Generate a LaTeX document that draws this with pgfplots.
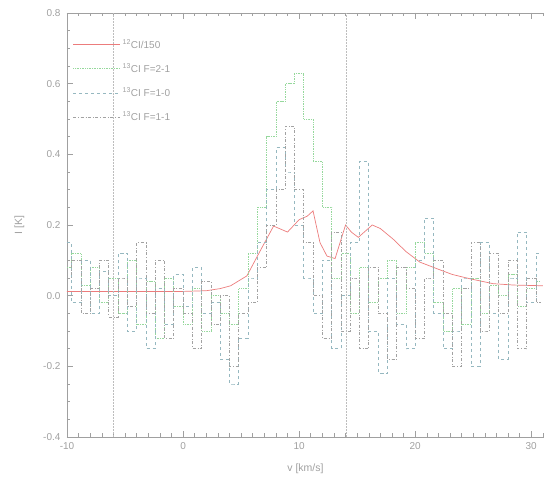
\documentclass[border=0pt]{standalone}
\usepackage{pgfplots}
\pgfplotsset{compat=1.18}
\usepackage{fontspec}
\setmainfont{Liberation Sans}
\definecolor{AxGray}{HTML}{A0A0A0}
\definecolor{LineRed}{HTML}{EC7C7C}
\definecolor{DotGreen}{HTML}{96D89C}
\definecolor{DashTeal}{HTML}{96B8C0}
\definecolor{DotDash}{HTML}{A2A2A2}
\definecolor{MarkGray}{HTML}{BDBDBD}

\pgfplotstableread{
v     I
-10   0.012
-6    0.012
0     0.012
2     0.014
3.2   0.020
4.1   0.028
5.5   0.056
6.6   0.124
7.8   0.197
9.0   0.180
10.0  0.215
10.7  0.225
11.2  0.240
11.8  0.150
12.4  0.112
13.1  0.105
14.0  0.200
14.5  0.180
15.1  0.165
16.3  0.200
17.0  0.190
18.1  0.160
19.2  0.125
20.4  0.095
21.9  0.076
23.2  0.060
24.7  0.048
26.7  0.034
28.5  0.030
31.0  0.028
}\ciline

\pgfplotstableread{
v     I
-10   0.08
-9.2  0.12
-8.4  0.03
-7.6  0.08
-6.8  -0.02
-6.0  0.05
-5.2  -0.05
-4.4  0.10
-3.6  -0.08
-2.8  0.04
-2.0  -0.12
-1.2  0.05
-0.4  -0.03
0.4   -0.08
1.2   0.02
2.0   -0.10
2.8   0.00
3.6   -0.05
4.4   -0.08
5.2   0.02
6.0   0.12
6.8   0.25
7.6   0.45
8.4   0.55
9.2   0.60
10.0  0.63
10.8  0.50
11.6  0.38
12.4  0.25
13.2  0.05
14.0  0.12
14.8  -0.05
15.6  0.08
16.4  -0.02
17.2  0.05
18.0  0.10
18.8  -0.05
19.6  0.08
20.4  0.15
21.2  0.12
22.0  -0.02
22.8  -0.10
23.6  0.02
24.4  -0.08
25.2  0.05
26.0  -0.05
26.8  0.03
27.6  0.00
28.4  0.06
29.2  -0.03
30.0  0.02
30.8  0.04
}\fzwoone

\pgfplotstableread{
v     I
-10   0.15
-9.2  -0.02
-8.4  0.10
-7.6  -0.05
-6.8  0.07
-6.0  0.00
-5.2  0.12
-4.4  -0.10
-3.6  0.05
-2.8  -0.15
-2.0  0.02
-1.2  -0.08
-0.4  0.06
0.4   -0.03
1.2   0.08
2.0   -0.05
2.8   -0.02
3.6   -0.18
4.4   -0.25
5.2   -0.12
6.0   0.05
6.8   0.15
7.6   0.30
8.4   0.42
9.2   0.35
10.0  0.20
10.8  0.05
11.6  -0.05
12.4  0.10
13.2  -0.15
14.0  0.00
14.8  0.15
15.6  0.38
16.4  -0.10
17.2  -0.22
18.0  0.05
18.8  -0.08
19.6  -0.15
20.4  0.10
21.2  0.22
22.0  -0.05
22.8  -0.15
23.6  -0.10
24.4  0.05
25.2  -0.20
26.0  0.15
26.8  -0.05
27.6  -0.18
28.4  0.05
29.2  0.18
30.0  -0.02
30.8  0.12
}\fonezero

\pgfplotstableread{
v     I
-10   0.05
-9.2  0.10
-8.4  -0.05
-7.6  0.02
-6.8  0.10
-6.0  -0.06
-5.2  0.05
-4.4  -0.03
-3.6  0.15
-2.8  -0.05
-2.0  0.10
-1.2  -0.12
-0.4  0.02
0.4   -0.05
1.2   -0.15
2.0   0.04
2.8   -0.08
3.6   0.00
4.4   -0.20
5.2   -0.05
6.0   -0.02
6.8   0.08
7.6   0.20
8.4   0.30
9.2   0.48
10.0  0.30
10.8  0.15
11.6  0.00
12.4  -0.12
13.2  0.18
14.0  -0.10
14.8  0.05
15.6  -0.15
16.4  0.08
17.2  -0.05
18.0  -0.18
18.8  0.08
19.6  0.02
20.4  -0.12
21.2  0.05
22.0  0.10
22.8  -0.05
23.6  -0.20
24.4  0.02
25.2  0.15
26.0  -0.10
26.8  0.12
27.6  -0.05
28.4  0.10
29.2  -0.15
30.0  0.05
30.8  -0.02
}\foneone

\begin{document}
\begin{tikzpicture}[x=1pt,y=1pt]
\begin{axis}[
  at={(0,0)}, anchor=south west,
  scale only axis,
  width=477pt, height=424pt,
  xmin=-10, xmax=31.1,
  ymin=-0.4, ymax=0.8,
  axis x line=box, axis y line=left,
  axis line style={AxGray, line width=0.5pt, -},
  xtick={-10,0,10,20,30},
  ytick={-0.4,-0.2,0,0.2,0.4,0.6,0.8},
  minor xtick={-9,-8,...,31},
  minor ytick={-0.35,-0.3,...,0.8},
  tick align=inside,
  major tick length=6pt,
  minor tick length=3.5pt,
  tick style={AxGray, line width=0.5pt},
  xticklabel style={text=AxGray, font=\fontsize{10}{12}\selectfont, yshift=-2pt},
  yticklabel style={text=AxGray, font=\fontsize{10}{12}\selectfont, xshift=-3pt,
    /pgf/number format/.cd, fixed, fixed zerofill, precision=1},
  /pgf/number format/assume math mode=true,
  xlabel={v [km/s]},
  ylabel={I [K]},
  label style={text=AxGray, font=\fontsize{10.5}{12}\selectfont},
  xlabel style={yshift=-7pt},
  ylabel style={yshift=12pt},
  legend cell align=left,
  legend style={draw=none, fill=none, at={(0.012,0.942)}, anchor=north west,
    font=\fontsize{10}{12}\selectfont, text=AxGray,
    row sep=10pt, inner sep=0pt},
  legend image code/.code={\draw[#1] (0pt,0pt) -- (34pt,0pt);\path (0pt,0pt) -- (47pt,0pt);},
]
\addplot[LineRed, line width=0.7pt] table[x=v, y=I] {\ciline};
\addlegendentry{\textsuperscript{12}CI/150}
\addplot[DotGreen, densely dotted, line width=0.7pt, const plot mark mid] table[x=v, y=I] {\fzwoone};
\addlegendentry{\textsuperscript{13}CI F=2-1}
\addplot[DashTeal, dashed, line width=0.6pt, const plot mark mid] table[x=v, y=I] {\fonezero};
\addlegendentry{\textsuperscript{13}CI F=1-0}
\addplot[DotDash, dash dot, line width=0.6pt, const plot mark mid] table[x=v, y=I] {\foneone};
\addlegendentry{\textsuperscript{13}CI F=1-1}
\addplot[MarkGray, densely dotted, line width=0.5pt, forget plot] coordinates {(-6,-0.4) (-6,0.8)};
\addplot[MarkGray, densely dotted, line width=0.5pt, forget plot] coordinates {(14.1,-0.4) (14.1,0.8)};
\end{axis}
\pgfresetboundingbox
\path[use as bounding box] (-67pt,-42pt) rectangle (477pt,437pt);
\end{tikzpicture}
\end{document}
